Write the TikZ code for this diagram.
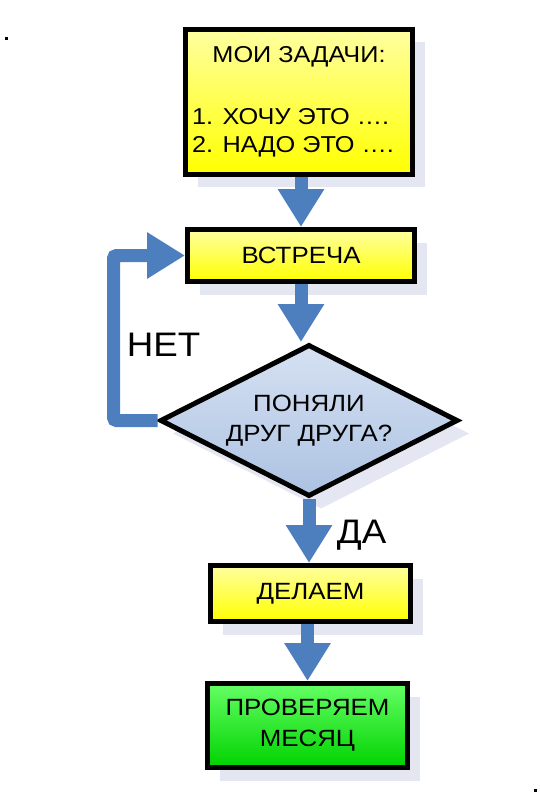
\documentclass[tikz,border=0pt]{standalone}
\usepackage{fontspec}
\setmainfont[FakeStretch=1.1]{Liberation Sans}
\newfontfamily\lblfont[FakeStretch=1.08]{Liberation Sans}
\usetikzlibrary{arrows.meta,shapes.geometric,shadows,calc}
\definecolor{flowblue}{RGB}{77,127,190}
\definecolor{shadowc}{RGB}{228,231,241}
\definecolor{yellowtop}{RGB}{255,255,160}
\definecolor{greentop}{RGB}{100,255,100}
\definecolor{greenbot}{RGB}{0,210,0}
\definecolor{bluetop}{RGB}{214,225,242}
\definecolor{bluebot}{RGB}{172,194,226}
\tikzset{
  shd/.style={drop shadow={shadow xshift=12pt,shadow yshift=-13pt,fill=shadowc,opacity=1}},
  box/.style={draw=black, line width=5pt, inner sep=2pt, shd,
    font=\fontsize{23.5}{31}\selectfont, align=center},
  ybox/.style={box, top color=yellowtop, bottom color=yellow},
  gbox/.style={box, top color=greentop, bottom color=greenbot},
  dbox/.style={diamond, aspect=2, draw=black, line width=5pt, inner sep=0pt, shd,
    top color=bluetop, bottom color=bluebot,
    font=\fontsize{23.5}{30}\selectfont, align=center},
  flow/.style={draw=flowblue, line width=13pt, -{Triangle[width=44pt,length=38pt]}},
  lbl/.style={font=\lblfont\fontsize{34}{36}\selectfont, inner sep=0pt}
}
\begin{document}
\begin{tikzpicture}[x=1pt,y=-1pt]
\useasboundingbox (0,0) rectangle (540,805);
% nodes
\node[ybox, minimum width=227pt, minimum height=145pt] (t) at (299,102)
  {\fontsize{23}{28.5}\selectfont\begin{tabular}{@{}l@{\hspace{12pt}}}
   \multicolumn{1}{@{}c@{}}{МОИ ЗАДАЧИ:}\\[33pt]
   1. ХОЧУ ЭТО ….\\
   2. НАДО ЭТО ….
   \end{tabular}};
\node[ybox, minimum width=227pt, minimum height=52pt] (b) at (301,255.5) {ВСТРЕЧА};
\node[dbox, minimum width=298pt, minimum height=152pt] (d) at (309,420.5)
  {ПОНЯЛИ\\ДРУГ ДРУГА?};
\node[ybox, minimum width=200pt, minimum height=56pt] (m) at (310.5,593.5) {ДЕЛАЕМ};
\node[gbox, minimum width=200pt, minimum height=84pt] (p) at (307.5,725.5)
  {ПРОВЕРЯЕМ\\МЕСЯЦ};
% labels
\node[lbl, anchor=base west] (no) at (126.7,356.7) {НЕТ};
\node[lbl, anchor=base west] (yes) at (336.7,543.3) {ДА};
% connectors
\coordinate (lc) at (113.5,424);
\draw[flow] (t.south -| b.north) -- (b.north);
\draw[flow] (b.south) -- (b.south |- d.north);
\draw[flow] (d.south) -- (d.south |- m.north);
\draw[flow] (m.south -| p.north) -- (p.north);
\draw[flow, rounded corners=3pt] (d.west) -- (d.west -| lc) |- (b.west);
% dots
\fill (4.5,37.5) rectangle (7.5,40.5);
\fill (533.5,788.5) rectangle (536.5,791.5);
\end{tikzpicture}
\end{document}
